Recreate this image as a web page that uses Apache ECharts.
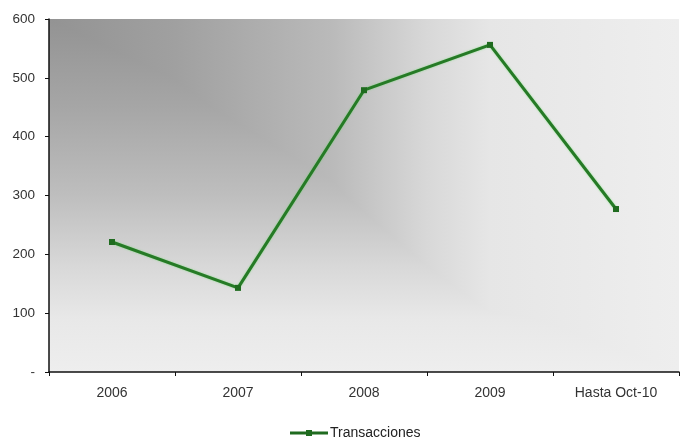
<!DOCTYPE html>
<html>
<head>
<meta charset="utf-8">
<script src="https://cdn.jsdelivr.net/npm/echarts@6/dist/echarts.min.js"></script>
<style>html,body{margin:0;padding:0;background:#fff;}#c{width:683px;height:443px;}</style>
</head>
<body>
<div id="c"></div>
<script>
const categories = ['2006', '2007', '2008', '2009', 'Hasta Oct-10'];
const transacciones = [221, 143, 479, 556, 277];
const seriesName = 'Transacciones';

const G = {left: 49, right: 4, top: 19, bottom: 71};
const W = 683 - G.left - G.right, H = 443 - G.top - G.bottom;

const chart = echarts.init(document.getElementById('c'), null, {renderer: 'canvas'});
chart.setOption({
  animation: false,
  textStyle: {fontFamily: 'Liberation Sans, Arial, sans-serif'},
  grid: Object.assign({show: false}, G),
  graphic: [
    {
      type: 'rect', left: G.left, top: G.top, z: 0, silent: true,
      shape: {width: W, height: H},
      style: {
        fill: {
          type: 'linear', x: 0, y: 0, x2: 1, y2: 0,
          colorStops: [
            {offset: 0, color: '#939393'},
            {offset: 0.2, color: '#a0a0a0'},
            {offset: 0.45, color: '#bababa'},
            {offset: 0.6, color: '#d8d8d8'},
            {offset: 0.7, color: '#e6e6e6'},
            {offset: 1, color: '#eeeeee'}
          ]
        }
      }
    },
    {
      type: 'rect', left: G.left, top: G.top, z: 1, silent: true,
      shape: {width: W, height: H},
      style: {
        blend: 'lighten',
        fill: {
          type: 'linear', x: 0, y: 0, x2: 0, y2: 1,
          colorStops: [
            {offset: 0, color: '#939393'},
            {offset: 0.25, color: '#a6a6a6'},
            {offset: 0.5, color: '#bebebe'},
            {offset: 0.7, color: '#d8d8d8'},
            {offset: 0.85, color: '#e8e8e8'},
            {offset: 1, color: '#eeeeee'}
          ]
        }
      }
    }
  ],
  legend: {
    top: 426,
    left: 290,
    padding: 0,
    itemWidth: 38,
    itemHeight: 10,
    itemGap: 4,
    textStyle: {color: '#222', fontSize: 14, padding: [0, 0, 0, -3]},
    data: [{name: seriesName, icon: 'path://M0,3.6 L38,3.6 L38,6.4 L0,6.4 Z M16,2 L22,2 L22,8 L16,8 Z'}]
  },
  xAxis: {
    type: 'category',
    z: 5,
    data: categories,
    boundaryGap: true,
    axisLine: {lineStyle: {color: '#111', width: 1.5}},
    axisTick: {show: true, length: 4, lineStyle: {color: '#111'}},
    axisLabel: {color: '#333', fontSize: 14, margin: 14}
  },
  yAxis: {
    type: 'value',
    z: 5,
    min: 0, max: 600, interval: 100,
    splitLine: {show: false},
    axisLine: {show: true, lineStyle: {color: '#111', width: 1.5}},
    axisTick: {show: true, length: 4, lineStyle: {color: '#111'}},
    axisLabel: {
      color: '#333', fontSize: 13.5, margin: 14,
      formatter: v => v === 0 ? '-' : String(v)
    }
  },
  series: [{
    name: seriesName,
    type: 'line',
    z: 3,
    data: transacciones,
    symbol: 'rect',
    symbolSize: 6,
    lineStyle: {color: '#267a26', width: 3, shadowColor: 'rgba(80,220,80,0.6)', shadowBlur: 2},
    itemStyle: {color: '#1f6b1f'},
    color: '#228B22'
  }]
});
</script>
</body>
</html>
